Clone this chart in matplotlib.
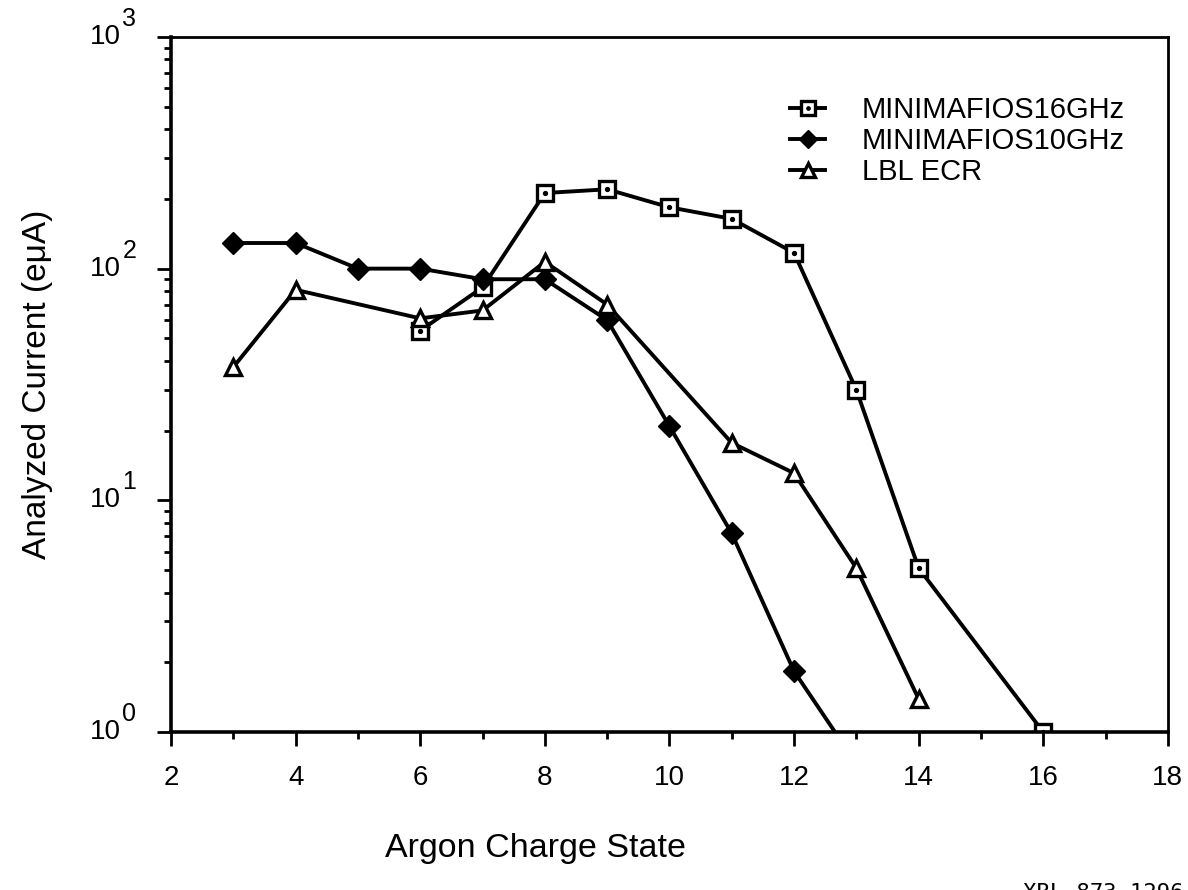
import matplotlib
matplotlib.use("Agg")
import matplotlib.pyplot as plt
from matplotlib.ticker import LogLocator, MultipleLocator, NullFormatter
from matplotlib.transforms import offset_copy

plt.rcParams['font.family'] = ['Liberation Sans', 'DejaVu Sans']

# data
q_16 = [6, 7, 8, 9, 10, 11, 12, 13, 14, 16]
i_16 = [54, 83, 212, 220, 184, 164, 117, 30, 5.1, 1.0]

q_10 = [3, 4, 5, 6, 7, 8, 9, 10, 11, 12, 13]
i_10 = [129, 129, 100, 100, 90, 90, 60, 20.9, 7.2, 1.83, 0.73]

q_lbl = [3, 4, 6, 7, 8, 9, 11, 12, 13, 14]
i_lbl = [37.6, 81, 61, 66, 107, 70, 17.7, 13.1, 5.1, 1.39]

y_decades = [0, 1, 2, 3]

fig = plt.figure(figsize=(11.88, 8.90), dpi=100)
ax = fig.add_axes([0.144, 0.1775, 0.839, 0.781])

lw = 2.8
l16, = ax.plot(q_16, i_16, color='black', lw=lw, marker='s', ms=11.5,
               mfc='white', mec='black', mew=2.4, label='MINIMAFIOS16GHz')
d16, = ax.plot(q_16, i_16, ls='none', marker='o', ms=2.8, color='black')
l10, = ax.plot(q_10, i_10, color='black', lw=lw, marker='D', ms=11,
               mfc='black', mec='black', label='MINIMAFIOS10GHz')
llb, = ax.plot(q_lbl, i_lbl, color='black', lw=lw, marker='^', ms=12,
               mfc='white', mec='black', mew=2.4, label='LBL ECR')

ax.set_yscale('log')
ax.set_xlim(2, 18)
ax.set_ylim(1, 1000)

ax.xaxis.set_major_locator(MultipleLocator(2))
ax.xaxis.set_minor_locator(MultipleLocator(1))
ax.yaxis.set_major_locator(LogLocator(base=10, numticks=10))
ax.yaxis.set_minor_locator(LogLocator(base=10, subs=range(2, 10), numticks=20))
ax.yaxis.set_minor_formatter(NullFormatter())
ax.yaxis.set_major_formatter(NullFormatter())

for s in ['top', 'right']:
    ax.spines[s].set_linewidth(2.0)
for s in ['left', 'bottom']:
    ax.spines[s].set_linewidth(2.6)

ax.tick_params(which='major', direction='out', length=10, width=2,
               labelsize=20, pad=10)
ax.tick_params(which='minor', direction='out', length=5, width=2)
ax.tick_params(axis='x', pad=14)

# y tick labels drawn as "10" with a large raised exponent, like the original
base_tr = offset_copy(ax.get_yaxis_transform(), fig=fig, x=-36, y=0, units='points')
exp_tr = offset_copy(ax.get_yaxis_transform(), fig=fig, x=-35, y=13, units='points')
for d in y_decades:
    ax.text(0, 10 ** d, '10', transform=base_tr, ha='right', va='center',
            fontsize=20, clip_on=False)
    ax.text(0, 10 ** d, str(d), transform=exp_tr, ha='left', va='center',
            fontsize=18, clip_on=False)

ax.set_xlabel('Argon Charge State', fontsize=24.5)
ax.xaxis.set_label_coords(0.366, -0.145)
ax.set_ylabel('Analyzed Current (e\u03bcA)', fontsize=24)
ax.yaxis.set_label_coords(-0.118, 0.5)

ax.legend(handles=[(l16, d16), l10, llb],
          labels=['MINIMAFIOS16GHz', 'MINIMAFIOS10GHz', 'LBL ECR'],
          loc='upper left', bbox_to_anchor=(0.621, 0.915), frameon=False,
          fontsize=21, handlelength=1.2, handletextpad=1.25,
          labelspacing=0.1, borderpad=0, borderaxespad=0, markerscale=0.85)

fig.text(1023 / 1188, 1 - 883 / 890, 'XBL 873-1296', family='DejaVu Sans Mono',
         fontsize=16, ha='left', va='top')

fig.savefig('out.png', dpi=100)
